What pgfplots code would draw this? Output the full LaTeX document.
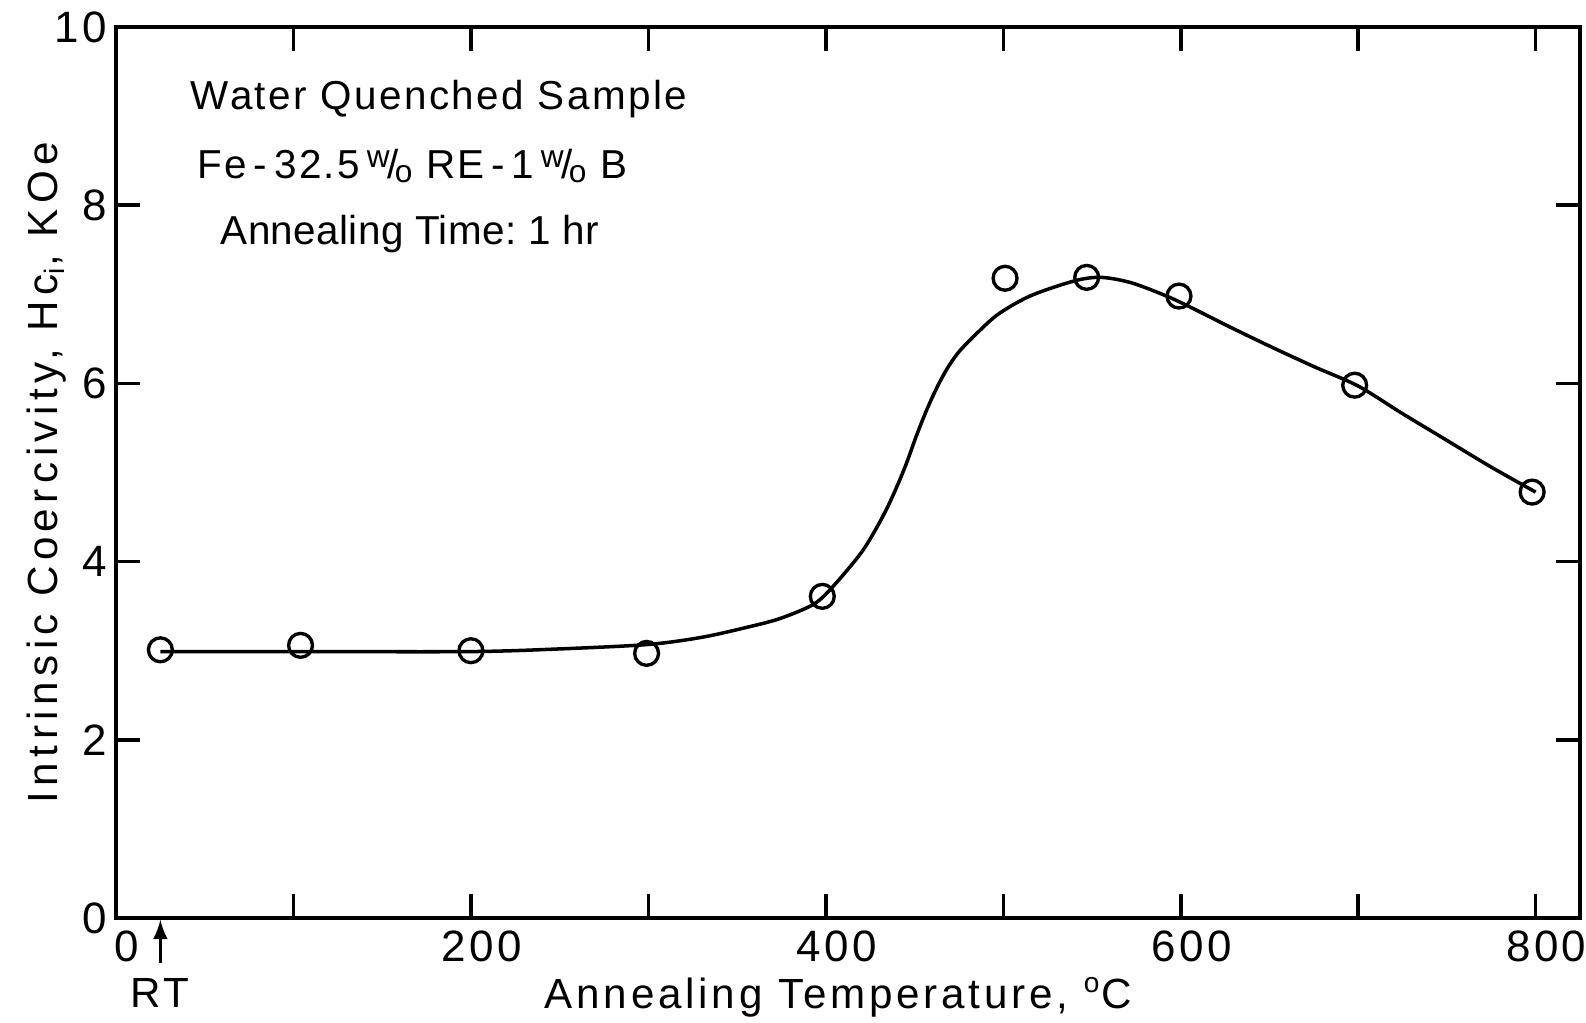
\documentclass[border=0pt]{standalone}
\usepackage{fontspec}
\setmainfont{Liberation Sans}
\newfontfamily\txtfont{Liberation Sans}[LetterSpace=6]
\newfontfamily\txtfontb{Liberation Sans}[LetterSpace=1]
\newfontfamily\lblfont{Liberation Sans}[LetterSpace=9]
\newfontfamily\ylblfont{Liberation Sans}[LetterSpace=13]
\newfontfamily\tickfont{Liberation Sans}[LetterSpace=8]
\usepackage{pgfplots}
\pgfplotsset{compat=1.18}
\newcommand{\wo}{\raisebox{0.55ex}{\small w}\kern-0.05em/\kern-0.1em\raisebox{-0.15ex}{\small o}}
\begin{document}
\begin{tikzpicture}
\begin{axis}[
  scale only axis, width=146.4mm, height=89.1mm,
  xmin=0, xmax=825, ymin=0, ymax=10,
  axis line style={line width=1.1pt},
  xtick={0,100,...,800}, xticklabels={0,,200,,400,,600,,800},
  ytick={0,2,4,6,8,10}, yticklabels={0,2,4,6,8,10},
  xtick pos=both, ytick pos=both, ticklabel pos=left,
  tick align=inside, major tick length=2.4mm,
  tick style={line width=1pt, black},
  ticklabel style={font=\tickfont\fontsize{12.5}{14}\selectfont},
  xticklabel style={xshift=3pt},
  yticklabel style={xshift=1pt},
  clip=false,
]
\addplot[black, line width=1pt, smooth, tension=0.5] coordinates {
(25,2.99) (104,2.99) (200,2.99) (250,3.02) (300,3.07) (330,3.15) (355,3.26)
(374,3.36) (393,3.52) (404,3.72) (421,4.13) (434,4.58) (444,5.03) (451,5.41)
(457,5.71) (463,5.97) (468.5,6.17) (474,6.33) (480,6.46) (496,6.76) (515,6.98)
(540,7.15) (555,7.19) (572,7.13) (592,6.98) (607,6.84) (628,6.63) (652,6.40)
(676,6.18) (700,5.97) (725,5.66) (750,5.36) (775,5.06) (800,4.78)
};
\addplot[only marks, mark=o, mark size=3.4pt, mark options={line width=0.95pt, fill=white, draw=black}] coordinates {
(25,3.01) (104,3.06) (200,3.00) (299,2.97) (398,3.61) (501,7.18) (547,7.19)
(599,6.98) (698,5.98) (798,4.78)
};
\node[font=\txtfont\fontsize{11.5}{13}\selectfont] at (axis cs:182,9.19) {Water Quenched Sample};
\node[font=\txtfont\fontsize{11.5}{13}\selectfont] at (axis cs:167,8.44) {Fe\,-\,32.5\,\wo\ RE\,-\,1\,\wo\ B};
\node[font=\txtfontb\fontsize{11.5}{13}\selectfont] at (axis cs:165.5,7.68) {Annealing Time:\ 1 hr};
\node[font=\lblfont\fontsize{12}{14}\selectfont] at (axis cs:407,-0.89) {Annealing Temperature, \textsuperscript{o}C};
\node[font=\ylblfont\fontsize{12}{14}\selectfont, rotate=90] at (axis cs:-39,5.0) {Intrinsic Coercivity, Hc\textsubscript{i}, KOe};
\draw[line width=0.9pt, -{latex}] (axis cs:25,-0.5) -- (axis cs:25,-0.02);
\node[font=\tickfont\fontsize{12}{14}\selectfont] at (axis cs:25,-0.84) {RT};
\end{axis}
\pgfresetboundingbox
\path (-11.6mm,-10.4mm) rectangle (147mm,91.8mm);
\end{tikzpicture}
\end{document}
